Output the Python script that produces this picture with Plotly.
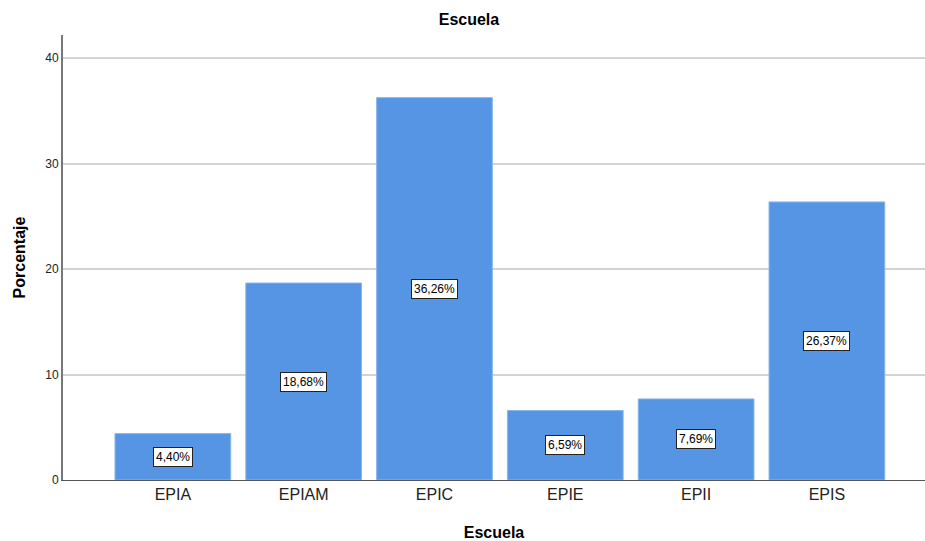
import plotly.graph_objects as go

escuelas = ["EPIA", "EPIAM", "EPIC", "EPIE", "EPII", "EPIS"]
porcentajes = [4.40, 18.68, 36.26, 6.59, 7.69, 26.37]
y_ticks = [0, 10, 20, 30, 40]

bar_color = "#5595e3"

fig = go.Figure()
fig.add_trace(go.Bar(
    x=list(range(len(escuelas))),
    y=porcentajes,
    width=0.885,
    marker=dict(color=bar_color, line=dict(color="#8ab6ee", width=1)),
    hoverinfo="skip",
))

# value labels in boxes at the middle of each bar
for i, v in enumerate(porcentajes):
    fig.add_annotation(
        x=i, y=v / 2, xref="x", yref="y",
        text=f"{v:.2f}%".replace(".", ","),
        showarrow=False,
        font=dict(family="Liberation Sans, Arial", size=12, color="black"),
        bgcolor="white", bordercolor="#222222", borderwidth=1, borderpad=2,
    )

fig.update_layout(
    width=925, height=541,
    margin=dict(l=63, r=0, t=35, b=61),
    paper_bgcolor="white", plot_bgcolor="white",
    showlegend=False,
    title=dict(text="<b>Escuela</b>", x=0.507, xanchor="center", y=0.965, yanchor="middle",
               font=dict(family="Liberation Sans, Arial", size=16, color="black")),
    font=dict(family="Liberation Sans, Arial", color="black"),
)

fig.update_xaxes(
    range=[-0.84, 5.75],
    tickmode="array", tickvals=list(range(len(escuelas))), ticktext=escuelas,
    tickfont=dict(size=16, color="#222222"),
    showline=True, linecolor="#555555", linewidth=1,
    showgrid=False, zeroline=False, ticks="", ticklen=0,
    title=dict(text="<b>Escuela</b>", font=dict(size=16, color="black"), standoff=26),
)
fig.update_yaxes(
    range=[0, 42.2],
    tickmode="array", tickvals=y_ticks,
    tickfont=dict(size=12, color="#222222"),
    showline=True, linecolor="#777777", linewidth=2,
    showgrid=True, gridcolor="#d3d3d3", gridwidth=1.5,
    zeroline=False, ticks="", ticklen=4,
    title=dict(text="<b>Porcentaje</b>", font=dict(size=16, color="black"), standoff=16),
)

fig.write_html("out.html")
